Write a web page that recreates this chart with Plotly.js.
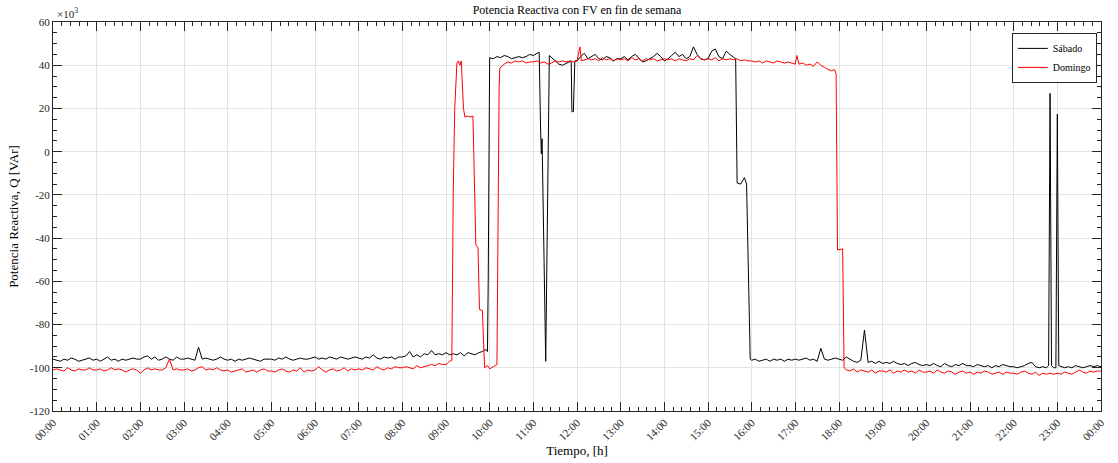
<!DOCTYPE html>
<html>
<head>
<meta charset="utf-8">
<script src="https://cdn.plot.ly/plotly-3.0.1.min.js"></script>
<style>html,body{margin:0;padding:0;background:#fff}#chart{width:1118px;height:463px}</style>
</head>
<body>
<div id="chart"></div>
<script>
// Time in minutes after 00:00, reactive power in units of 10^3 VAr
const seriesNames = ["Sábado", "Domingo"];

const sabT = [
  0,5,10,15,20,25,30,35,40,45,50,55,
  60,65,70,75,80,85,90,95,100,105,110,115,
  120,125,130,135,140,145,150,155,160,165,170,175,
  180,185,190,195,200,205,210,215,220,225,230,235,
  240,245,250,255,260,265,270,275,280,285,290,295,
  300,305,310,315,320,325,330,335,340,345,350,355,
  360,365,370,375,380,385,390,395,400,405,410,415,
  420,425,430,435,440,445,450,455,460,465,470,475,
  480,485,490,495,500,505,510,515,520,525,530,535,
  540,545,550,555,560,565,570,575,580,585,590,595,
  597,598,600,
  605,610,615,620,625,630,635,640,645,650,655,
  660,665,668,670,671,672,677,682,685,690,695,700,705,710,712,713,715,717,
  720,725,730,735,740,745,750,755,760,765,770,775,
  780,785,790,795,800,805,810,815,820,825,830,835,
  840,845,850,855,860,865,870,875,880,885,890,895,
  900,905,910,915,920,925,930,935,938,940,945,950,953,958,
  960,965,970,975,980,985,990,995,1000,1005,1010,1015,
  1020,1025,1030,1035,1040,1045,1050,1055,1060,1065,1070,1075,
  1080,1085,1090,1095,1100,1105,1110,1115,1120,1125,1130,1135,
  1140,1145,1150,1155,1160,1165,1170,1175,1180,1185,1190,1195,
  1200,1205,1210,1215,1220,1225,1230,1235,1240,1245,1250,1255,
  1260,1265,1270,1275,1280,1285,1290,1295,1300,1305,1310,1315,
  1320,1325,1330,1335,1340,1345,1350,1355,1360,1365,1368,1370,1372,1375,1378,
  1380,1382,1385,1390,1395,1400,1405,1410,1415,1420,1425,1430,1435,1440
];
const sabQ = [
  -96,-96.5,-97,-96,-96.5,-95.5,-96,-97,-96.5,-96,-95.5,-96.5,
  -96,-97,-96,-95,-96.5,-96,-97,-96,-96.5,-96,-95.5,-96,
  -96,-95,-94.5,-96,-95,-96.5,-96,-95,-96,-96.5,-95,-96,
  -96,-95.5,-96,-96.5,-90.5,-96,-95.5,-96,-96.5,-96,-95,-96,
  -96.5,-96,-97,-96,-96.5,-96,-95.5,-96,-96.5,-97,-96,-96,
  -96,-96.5,-95.5,-96,-95,-96,-96.5,-96,-95.5,-96,-96,-95.5,
  -95,-96,-95.5,-96,-95,-95.5,-96,-95,-95.5,-96,-95.5,-95,
  -95.5,-96,-95,-95.5,-94,-95.5,-96,-95,-95.5,-95,-96,-95,
  -95,-94.5,-92.5,-95,-94,-95,-93.5,-94,-92,-94,-93.5,-94,
  -93,-94,-93.5,-94,-93,-94.5,-93,-93.5,-94,-93,-92.5,-91.5,
  -92.5,-60,43.5,
  43,44,43.5,44.5,44,43,43.5,44,43.5,44,45,
  44.5,45.5,46,10,-1,6,-97,44.5,43.5,42,40.5,40,41,42,42,18.5,18.5,42,
  42,44,45.5,43,44,45,43,42.5,44,43.5,42,43,
  43,44,42.5,44,45,43,41.5,42,43,44,45.5,44,
  42,43,44.5,46,44,45,43,44,48.5,45,43,42.5,
  43,46.5,47.5,44,43,46.5,45,43.5,43,-14.5,-15,-12,-15,-96,
  -96.5,-96,-97,-96.5,-96,-97,-96,-96.5,-96,-97,-96,-96.5,
  -96,-96.5,-96,-95.5,-96.5,-96,-97,-91,-96,-96.5,-96,-95.5,
  -96,-96.5,-95,-96,-97,-97.5,-96.5,-82.5,-97.5,-97,-98,-97,
  -98,-97.5,-98,-97,-98,-98.5,-98,-99,-98,-97.5,-98.5,-99,
  -98.5,-99,-98,-99,-99.5,-98,-99,-99.5,-98.5,-99,-98,-99,
  -99,-99.5,-98.5,-99,-99.5,-99,-100,-99,-99.5,-98.5,-99,-99.5,
  -99.5,-100,-99.5,-99,-98,-97.5,-99.5,-100,-99.5,-100,-99,27,-99,-100,-100,
  17.4,-99,-99.5,-100,-99.5,-100,-99,-99.5,-100,-99.5,-99,-99.5,-99,-99.5
];

const domT = [
  0,5,10,15,20,25,30,35,40,45,50,55,
  60,65,70,75,80,85,90,95,100,105,110,115,
  120,125,130,135,140,145,150,155,160,165,170,175,
  180,185,190,195,200,205,210,215,220,225,230,235,
  240,245,250,255,260,265,270,275,280,285,290,295,
  300,305,310,315,320,325,330,335,340,345,350,355,
  360,365,370,375,380,385,390,395,400,405,410,415,
  420,425,430,435,440,445,450,455,460,465,470,475,
  480,485,490,495,500,505,510,515,520,525,530,535,
  540,545,548,550,552,555,557,559,561,564,566,570,573,577,579,581,584,586,590,593,597,
  600,605,610,613,614,620,625,630,635,640,645,650,655,
  660,665,670,675,680,685,690,695,700,705,710,715,
  720,724,726,730,735,740,745,750,755,760,765,770,775,
  780,785,790,795,800,805,810,815,820,825,830,835,
  840,845,850,855,860,865,870,875,880,885,890,895,
  900,905,910,915,920,925,930,935,940,945,950,955,
  960,965,970,975,980,985,990,995,1000,1005,1010,1015,
  1020,1022,1025,1030,1035,1040,1045,1050,1055,1060,1065,1070,1074,1076,1078,1085,1087,
  1090,1095,1100,1105,1110,1115,1120,1125,1130,1135,
  1140,1145,1150,1155,1160,1165,1170,1175,1180,1185,1190,1195,
  1200,1205,1210,1215,1220,1225,1230,1235,1240,1245,1250,1255,
  1260,1265,1270,1275,1280,1285,1290,1295,1300,1305,1310,1315,
  1320,1325,1330,1335,1340,1345,1350,1355,1360,1365,1370,1375,
  1380,1385,1390,1395,1400,1405,1410,1415,1420,1425,1430,1435,1440
];
const domQ = [
  -101,-100.5,-101,-101.5,-100,-101,-101.5,-100.5,-101,-101,-100,-101,
  -101,-100.5,-101.5,-101,-100,-101,-100.5,-101,-102,-101,-100.5,-101,
  -102.5,-101,-100,-101,-100.5,-101,-101,-100,-96,-101,-100.5,-101,
  -101,-100.5,-101.5,-101,-100,-99.5,-101,-100.5,-101,-100,-101,-101.5,
  -101,-102,-101.5,-101,-100.5,-102,-101.5,-101,-102,-101,-100.5,-101.5,
  -101.5,-102,-101,-100.5,-101.5,-102,-101,-101.5,-100,-102,-101,-101.5,
  -101,-99.5,-101,-102,-101,-100.5,-101.5,-101,-100,-101.5,-100.5,-101,
  -100.5,-101,-100,-100.5,-101,-99.5,-100.5,-101,-100,-100.5,-99.5,-100,
  -100,-99.5,-100,-100.5,-99,-100,-99.5,-99,-98.5,-99,-98,-98.5,
  -98.5,-97,-96.5,-18,20,41,42,40,42,20,16,16.5,16,16.5,-19,-43,-44.5,-73,-73.5,-100,-99,
  -100.5,-99.5,-98.5,30,38.7,40.5,41.5,41,42,41.5,42,41,41.5,
  41.5,42,41,41.5,40.5,41,42,41.5,42,41.5,42,41.5,
  42,48.5,42,42.5,43,42.5,43,42,43.5,42.5,43,42,43,
  42.5,43,42,43.5,42.5,43,42,43,42.5,43,42,42.5,
  43,42.5,43,42,43,42.5,42,43,42.5,44.5,43,42.5,
  43,42.5,43.5,42,43,42.5,43,42.5,43,42,42.5,42,
  42,41.5,42,41,42,41.5,41,42,41.5,41,41.5,41,
  40.5,44.5,40.5,41,40,40.5,39.5,41.5,40,39,38,37.5,38,36,-45.5,-45,-100,
  -101,-101.5,-100.5,-102,-101,-101.5,-102,-101,-102.5,-101.5,
  -101.5,-102,-101,-102.5,-101.5,-102,-101,-102,-101.5,-102.5,-101,-102,
  -102,-101.5,-102.5,-101,-102,-102.5,-101.5,-102,-103,-102,-101.5,-102.5,
  -102,-103,-102,-102.5,-101.5,-102,-103,-102.5,-102,-103,-102,-102.5,
  -102.5,-103,-102,-101.5,-102.5,-103,-102,-103.5,-102.5,-103,-102.5,-103,
  -102.5,-103,-102,-102.5,-103,-102,-101,-102,-102.5,-101.5,-102,-101.5,-101.5
];

const yTicks = [-120,-100,-80,-60,-40,-20,0,20,40,60];

function toDate(m) {
  const d = new Date(Date.UTC(2024, 0, 6, 0, 0) + m * 60000);
  return d.toISOString().slice(0, 16).replace('T', ' ');
}

const font = "Liberation Serif, Times New Roman, serif";
const axisColor = "#262626";
const gridColor = "#e3e3e3";

const traces = [
  {x: sabT.map(toDate), y: sabQ, name: seriesNames[0], type: 'scatter', mode: 'lines',
   line: {color: '#000000', width: 1}},
  {x: domT.map(toDate), y: domQ, name: seriesNames[1], type: 'scatter', mode: 'lines',
   line: {color: '#ff0000', width: 1}}
];

const layout = {
  width: 1118, height: 463,
  margin: {l: 53, r: 17, t: 22, b: 52},
  paper_bgcolor: '#ffffff', plot_bgcolor: '#ffffff',
  font: {family: font, size: 11, color: axisColor},
  title: {text: 'Potencia Reactiva con FV en fin de semana', font: {family: font, size: 12, color: '#000'},
          x: 0.5, xref: 'paper', y: 0.978, yref: 'container', yanchor: 'middle'},
  showlegend: true,
  legend: {x: 0.996, xanchor: 'right', y: 0.972, yanchor: 'top', bgcolor: '#ffffff',
           bordercolor: axisColor, borderwidth: 1, font: {family: font, size: 10, color: '#000'},
           itemwidth: 30, tracegroupgap: 0},
  xaxis: {
    type: 'date',
    range: [toDate(0), toDate(1440)],
    dtick: 3600000, tick0: toDate(0), tickformat: '%H:%M', tickangle: -45,
    ticks: 'inside', ticklen: 9, tickcolor: axisColor, tickwidth: 1,
    showline: true, linecolor: axisColor, linewidth: 1, mirror: 'allticks',
    showgrid: true, gridcolor: gridColor, gridwidth: 1, zeroline: false,
    minor: {dtick: 720000, ticks: 'inside', ticklen: 4, tickcolor: axisColor, showgrid: false},
    tickfont: {family: font, size: 11, color: axisColor},
    title: {text: 'Tiempo, [h]', font: {family: font, size: 13, color: '#000'}, standoff: 4},
    automargin: false
  },
  yaxis: {
    range: [-120, 60], tickvals: yTicks, ticktext: yTicks.map(String),
    ticks: 'inside', ticklen: 9, tickcolor: axisColor, tickwidth: 1,
    showline: true, linecolor: axisColor, linewidth: 1, mirror: 'allticks',
    showgrid: true, gridcolor: gridColor, gridwidth: 1, zeroline: false,
    minor: {dtick: 5, ticks: 'inside', ticklen: 4, tickcolor: axisColor, showgrid: false},
    tickfont: {family: font, size: 11, color: axisColor},
    title: {text: 'Potencia Reactiva, Q [VAr]', font: {family: font, size: 13, color: '#000'}, standoff: 8},
    automargin: false
  },
  annotations: [
    {text: '×10<sup>3</sup>', xref: 'paper', yref: 'paper', x: 0, y: 1, xanchor: 'left', yanchor: 'bottom',
     showarrow: false, font: {family: font, size: 11, color: axisColor}, xshift: 2}
  ]
};

Plotly.newPlot('chart', traces, layout, {displayModeBar: false, staticPlot: true});
</script>
</body>
</html>
